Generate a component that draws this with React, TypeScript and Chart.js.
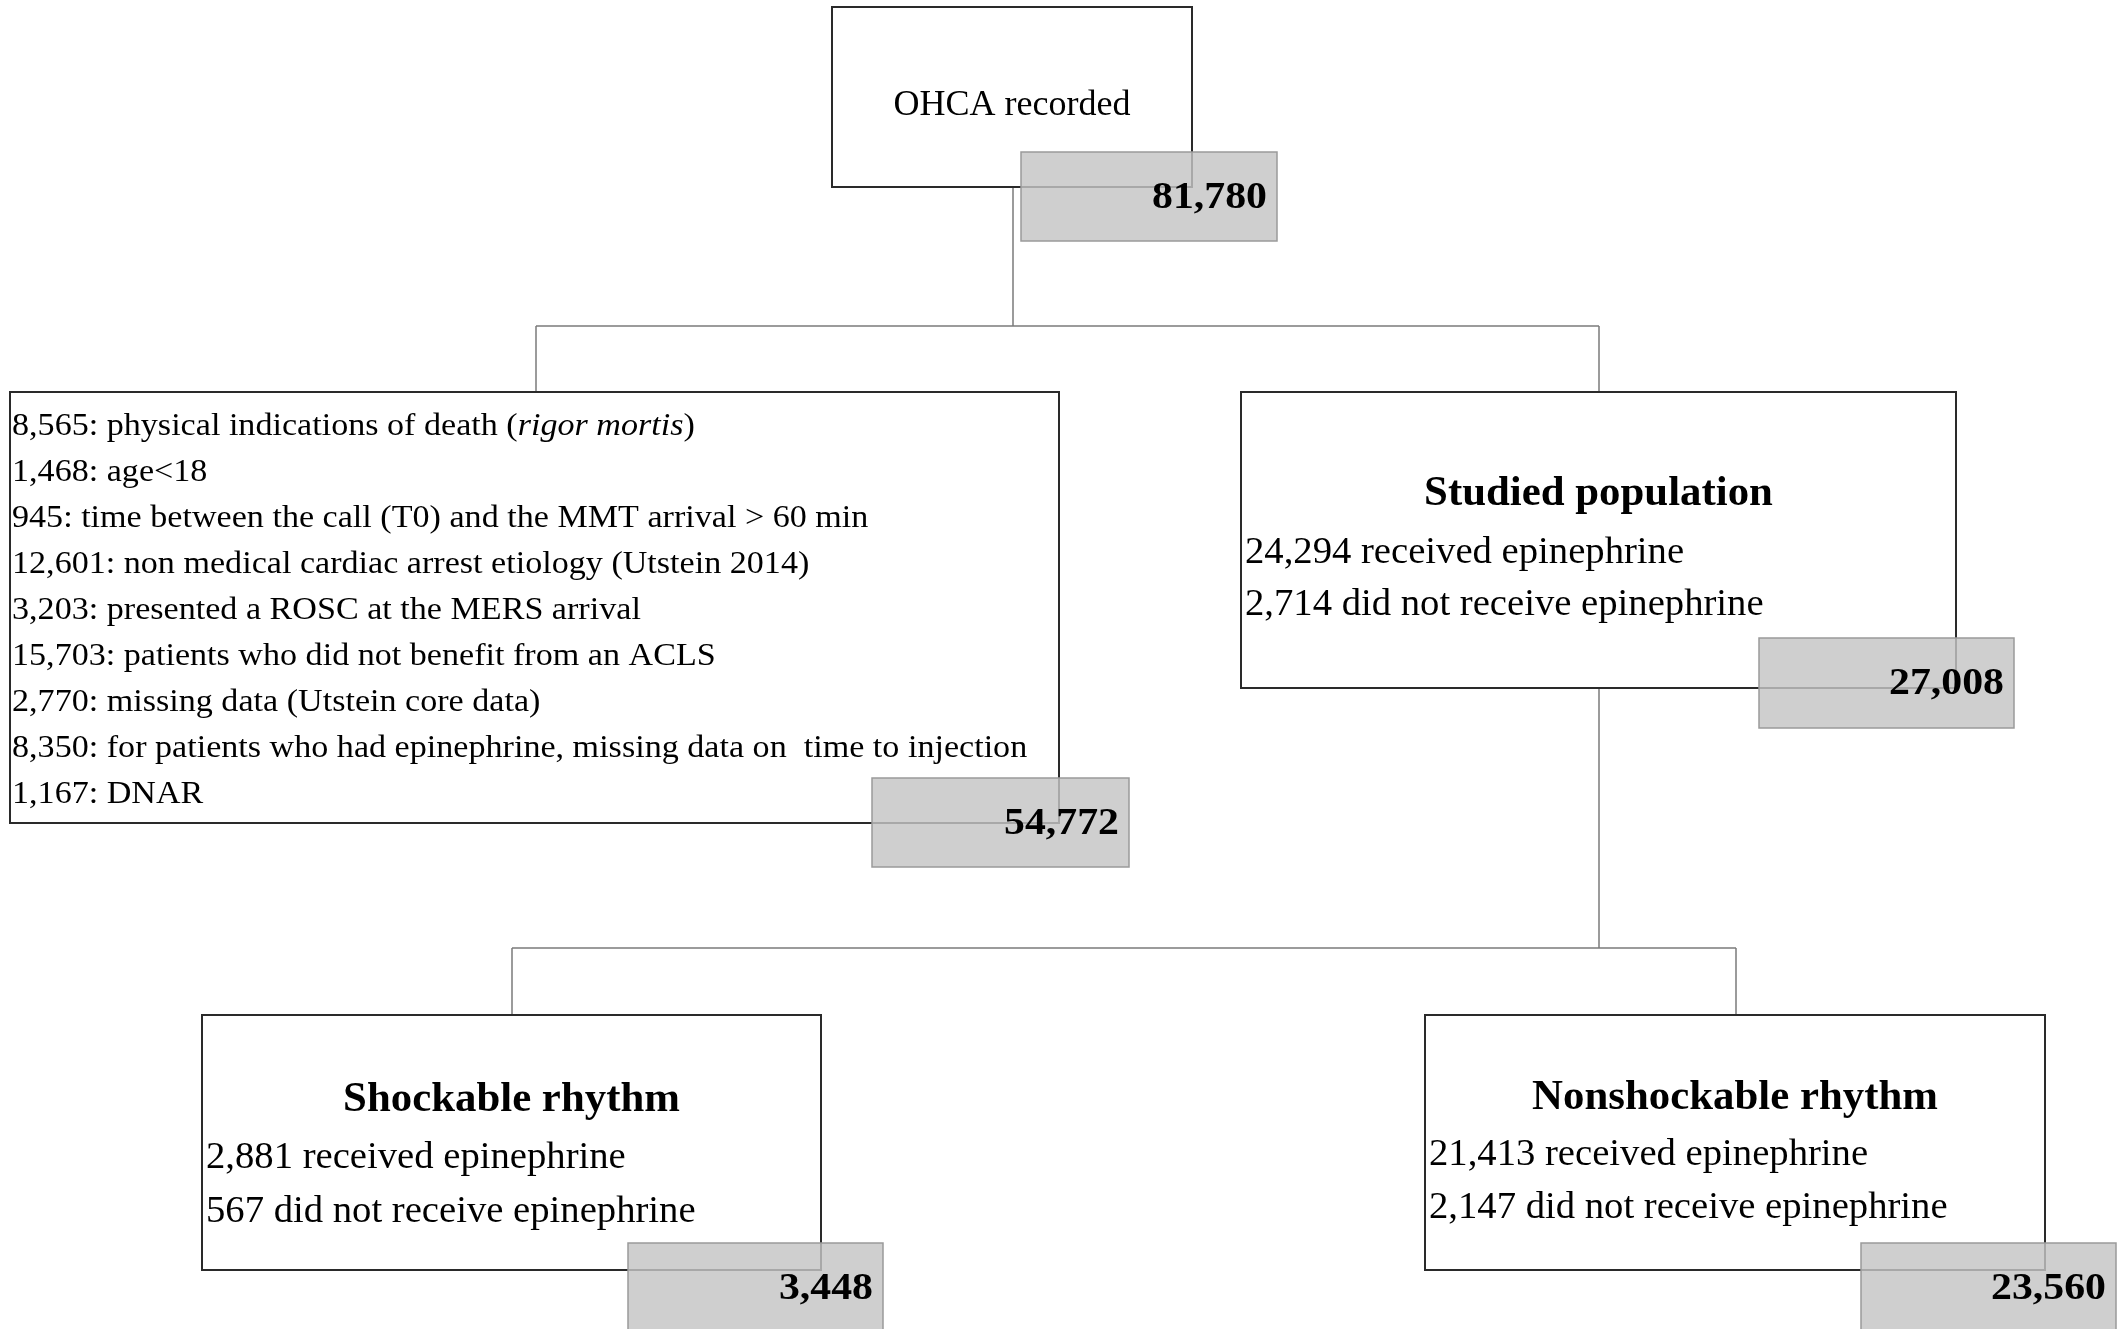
import React, { useEffect, useRef } from "react";
import { Chart, registerables } from "chart.js";

Chart.register(...registerables);

// ---------------- DATA ----------------
const rootLabel = "OHCA recorded";
const rootTotal = 81780;

const exclusionCounts = [8565, 1468, 945, 12601, 3203, 15703, 2770, 8350, 1167];
// text between *...* is italic
const exclusionReasons = [
  "physical indications of death (*rigor mortis*)",
  "age<18",
  "time between the call (T0) and the MMT arrival > 60 min",
  "non medical cardiac arrest etiology (Utstein 2014)",
  "presented a ROSC at the MERS arrival",
  "patients who did not benefit from an ACLS",
  "missing data (Utstein core data)",
  "for patients who had epinephrine, missing data on  time to injection",
  "DNAR",
];
const exclusionTotal = 54772;

const groupTitles = ["Studied population", "Shockable rhythm", "Nonshockable rhythm"];
const receivedEpinephrine = [24294, 2881, 21413];
const notReceivedEpinephrine = [2714, 567, 2147];
const groupTotals = [27008, 3448, 23560];

const fmt = (n: number) => n.toLocaleString("en-US");

// ---------------- LAYOUT (chart units = pixels of 2123x1329) ----------------
const W = 2123;
const H = 1329;
const FONT = '"Liberation Serif", "DejaVu Serif", serif';
const TEXT_DY = 3;

type Rect = { x0: number; y0: number; x1: number; y1: number };
const rootBox: Rect = { x0: 832, y0: 7, x1: 1192, y1: 187 };
const rootGray: Rect = { x0: 1021, y0: 152, x1: 1277, y1: 241 };
const exclBox: Rect = { x0: 10, y0: 392, x1: 1059, y1: 823 };
const exclGray: Rect = { x0: 872, y0: 778, x1: 1129, y1: 867 };
const groupBoxes: Rect[] = [
  { x0: 1241, y0: 392, x1: 1956, y1: 688 },
  { x0: 202, y0: 1015, x1: 821, y1: 1270 },
  { x0: 1425, y0: 1015, x1: 2045, y1: 1270 },
];
const groupGrays: Rect[] = [
  { x0: 1759, y0: 638, x1: 2014, y1: 728 },
  { x0: 628, y0: 1243, x1: 883, y1: 1335 },
  { x0: 1861, y0: 1243, x1: 2116, y1: 1335 },
];
const groupTitleY = [491, 1097, 1095];
const groupLine1Y = [550, 1155, 1152];
const groupLine2Y = [602, 1209, 1205];
const connectors: number[][][] = [
  [[1013, 187], [1013, 326]],
  [[536, 326], [1599, 326]],
  [[536, 326], [536, 392]],
  [[1599, 326], [1599, 392]],
  [[1599, 688], [1599, 948]],
  [[512, 948], [1736, 948]],
  [[512, 948], [512, 1015]],
  [[1736, 948], [1736, 1015]],
];
const exclLineY0 = 424;
const exclLineStep = 46;

// ---------------- PLUGIN ----------------
function drawText(
  ctx: CanvasRenderingContext2D,
  text: string,
  x: number,
  y: number,
  font: string,
  align: CanvasTextAlign,
  sx: number
): number {
  ctx.save();
  ctx.font = font;
  ctx.fillStyle = "#000";
  ctx.textAlign = align;
  ctx.textBaseline = "middle";
  ctx.translate(x, y + TEXT_DY);
  ctx.scale(sx, 1);
  ctx.fillText(text, 0, 0);
  const w = ctx.measureText(text).width * sx;
  ctx.restore();
  return w;
}

const flowPlugin = {
  id: "flow",
  afterDraw(chart: any) {
    const ctx: CanvasRenderingContext2D = chart.ctx;
    const xs = chart.scales.x;
    const ys = chart.scales.y;
    const px = (v: number) => xs.getPixelForValue(v);
    const py = (v: number) => ys.getPixelForValue(v);

    ctx.save();
    ctx.fillStyle = "#ffffff";
    ctx.fillRect(0, 0, chart.width, chart.height);

    // connectors
    ctx.strokeStyle = "#7a7a7a";
    ctx.lineWidth = 1.5;
    connectors.forEach((seg) => {
      ctx.beginPath();
      ctx.moveTo(px(seg[0][0]), py(seg[0][1]));
      ctx.lineTo(px(seg[1][0]), py(seg[1][1]));
      ctx.stroke();
    });

    const box = (r: Rect) => {
      ctx.fillStyle = "#ffffff";
      ctx.fillRect(px(r.x0), py(r.y0), px(r.x1) - px(r.x0), py(r.y1) - py(r.y0));
      ctx.strokeStyle = "#2a2a2a";
      ctx.lineWidth = 2;
      ctx.strokeRect(px(r.x0), py(r.y0), px(r.x1) - px(r.x0), py(r.y1) - py(r.y0));
    };
    const gray = (r: Rect, n: number) => {
      ctx.fillStyle = "rgba(196,196,196,0.82)";
      ctx.fillRect(px(r.x0), py(r.y0), px(r.x1) - px(r.x0), py(r.y1) - py(r.y0));
      ctx.strokeStyle = "#9a9a9a";
      ctx.lineWidth = 1.5;
      ctx.strokeRect(px(r.x0), py(r.y0), px(r.x1) - px(r.x0), py(r.y1) - py(r.y0));
      const cy = Math.min(r.y0 + 43, (r.y0 + r.y1) / 2);
      drawText(ctx, fmt(n), px(r.x1 - 10), py(cy), `bold 37px ${FONT}`, "right", 1.13);
    };

    // root
    box(rootBox);
    drawText(ctx, rootLabel, px((rootBox.x0 + rootBox.x1) / 2), py(103), `36px ${FONT}`, "center", 1.0);
    gray(rootGray, rootTotal);

    // exclusions
    box(exclBox);
    exclusionCounts.forEach((c, i) => {
      const y = py(exclLineY0 + i * exclLineStep);
      let x = px(exclBox.x0 + 2);
      const parts = (fmt(c) + ": " + exclusionReasons[i]).split("*");
      parts.forEach((p, k) => {
        x += drawText(ctx, p, x, y, `${k % 2 === 1 ? "italic " : ""}31px ${FONT}`, "left", 1.1);
      });
    });
    gray(exclGray, exclusionTotal);

    // groups
    groupTitles.forEach((t, i) => {
      const r = groupBoxes[i];
      box(r);
      drawText(ctx, t, px((r.x0 + r.x1) / 2), py(groupTitleY[i]), `bold 42px ${FONT}`, "center", 1.02);
      drawText(ctx, `${fmt(receivedEpinephrine[i])} received epinephrine`, px(r.x0 + 4), py(groupLine1Y[i]), `37px ${FONT}`, "left", 1.045);
      drawText(ctx, `${fmt(notReceivedEpinephrine[i])} did not receive epinephrine`, px(r.x0 + 4), py(groupLine2Y[i]), `37px ${FONT}`, "left", 1.045);
      gray(groupGrays[i], groupTotals[i]);
    });

    ctx.restore();
  },
};

export default function App() {
  const ref = useRef<HTMLCanvasElement | null>(null);
  useEffect(() => {
    if (!ref.current) return;
    const chart = new Chart(ref.current, {
      type: "scatter",
      data: { datasets: [{ data: [], pointRadius: 0 }] },
      options: {
        animation: false,
        responsive: false,
        maintainAspectRatio: false,
        layout: { padding: 0 },
        plugins: { legend: { display: false }, tooltip: { enabled: false } },
        scales: {
          x: { type: "linear", min: 0, max: W, display: false },
          y: { type: "linear", min: 0, max: H, reverse: true, display: false },
        },
      },
      plugins: [flowPlugin],
    });
    return () => chart.destroy();
  }, []);
  return (
    <div style={{ position: "fixed", left: 0, top: 0, width: W, height: H, background: "#fff" }}>
      <canvas ref={ref} width={W} height={H} style={{ display: "block", width: W, height: H }} />
    </div>
  );
}
